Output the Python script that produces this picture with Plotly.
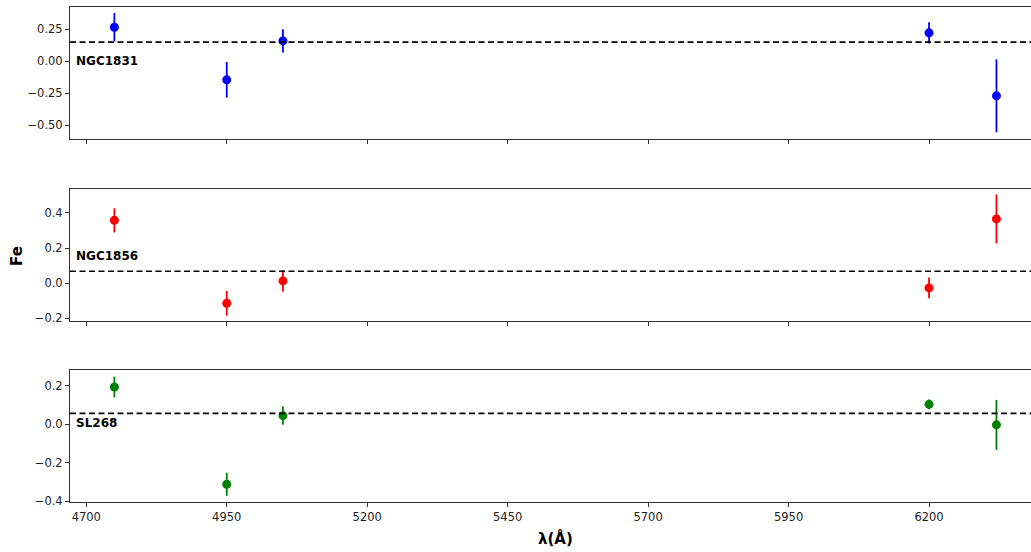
import plotly.graph_objects as go
from plotly.subplots import make_subplots

wavelengths = [4750, 4950, 5050, 6200, 6320]

clusters = ["NGC1831", "NGC1856", "SL268"]
colors = ["blue", "red", "green"]

fe_ngc1831 = [0.264, -0.147, 0.157, 0.220, -0.272]
err_ngc1831 = [0.111, 0.139, 0.091, 0.083, 0.285]
mean_ngc1831 = 0.148

fe_ngc1856 = [0.358, -0.116, 0.012, -0.028, 0.366]
err_ngc1856 = [0.069, 0.071, 0.062, 0.059, 0.140]
mean_ngc1856 = 0.067

fe_sl268 = [0.194, -0.313, 0.045, 0.104, -0.003]
err_sl268 = [0.054, 0.060, 0.048, 0.025, 0.130]
mean_sl268 = 0.057

values = [fe_ngc1831, fe_ngc1856, fe_sl268]
errors = [err_ngc1831, err_ngc1856, err_sl268]
means = [mean_ngc1831, mean_ngc1856, mean_sl268]

x_range = [4671, 6381.5]
y_ranges = [[-0.609, 0.422], [-0.217, 0.537], [-0.405, 0.283]]
y_ticks = [[-0.5, -0.25, 0.0, 0.25], [-0.2, 0.0, 0.2, 0.4], [-0.4, -0.2, 0.0, 0.2]]
y_fmt = [".2f", ".1f", ".1f"]
label_y = [0.0, 0.153, 0.005]
x_ticks = [4700, 4950, 5200, 5450, 5700, 5950, 6200]

W, H = 1031, 552
L = 70
panel_px = [(7, 139), (189, 321), (370, 502)]

fig = make_subplots(rows=3, cols=1, shared_xaxes=False)

for i in range(3):
    r = i + 1
    fig.add_trace(go.Scatter(
        x=wavelengths, y=values[i], mode="markers",
        marker=dict(color=colors[i], size=9),
        error_y=dict(type="data", array=errors[i], color=colors[i], thickness=1.8, width=0),
        showlegend=False), row=r, col=1)
    fig.add_trace(go.Scatter(
        x=x_range, y=[means[i], means[i]], mode="lines",
        line=dict(color="black", width=1.6, dash="6px,3.5px"),
        showlegend=False, hoverinfo="skip"), row=r, col=1)
    fig.add_annotation(x=4679, y=label_y[i], xref=f"x{'' if r == 1 else r}", yref=f"y{'' if r == 1 else r}",
                       text=f"<b>{clusters[i]}</b>", showarrow=False, xanchor="left", yanchor="middle",
                       font=dict(family="DejaVu Sans", size=12, color="black"))
    top, bot = panel_px[i]
    fig.update_yaxes(row=r, col=1, domain=[1 - bot / H, 1 - top / H], range=y_ranges[i],
                     tickvals=y_ticks[i], tickformat=y_fmt[i], ticks="outside", ticklen=4,
                     tickcolor="#333", showline=True, linecolor="#333", linewidth=1,
                     showgrid=False, zeroline=False, automargin=False,
                     tickfont=dict(family="DejaVu Sans", size=11.5, color="#222"))
    fig.update_xaxes(row=r, col=1, range=x_range, tickvals=x_ticks, ticks="outside", ticklen=4,
                     tickcolor="#333", showline=True, mirror=True, linecolor="#333", linewidth=1,
                     showgrid=False, zeroline=False, showticklabels=(r == 3), automargin=False,
                     tickfont=dict(family="DejaVu Sans", size=11.5, color="#222"))

PW = W - L
fig.add_annotation(x=(17 - L) / PW, y=1 - 256 / H, xref="paper", yref="paper", text="<b>Fe</b>",
                   textangle=-90, showarrow=False, xanchor="center", yanchor="middle",
                   font=dict(family="DejaVu Sans", size=15, color="black"))
fig.add_annotation(x=(555 - L) / PW, y=1 - 538 / H, xref="paper", yref="paper", text="<b>λ(Å)</b>",
                   showarrow=False, xanchor="center", yanchor="middle",
                   font=dict(family="DejaVu Sans", size=15, color="black"))

fig.update_layout(width=W, height=H, margin=dict(l=L, r=0, t=0, b=0, autoexpand=False),
                  plot_bgcolor="white", paper_bgcolor="white", showlegend=False)

fig.write_html("out.html", config={"displayModeBar": False},
               post_script="document.body.style.margin='0';document.body.style.overflow='hidden';")
